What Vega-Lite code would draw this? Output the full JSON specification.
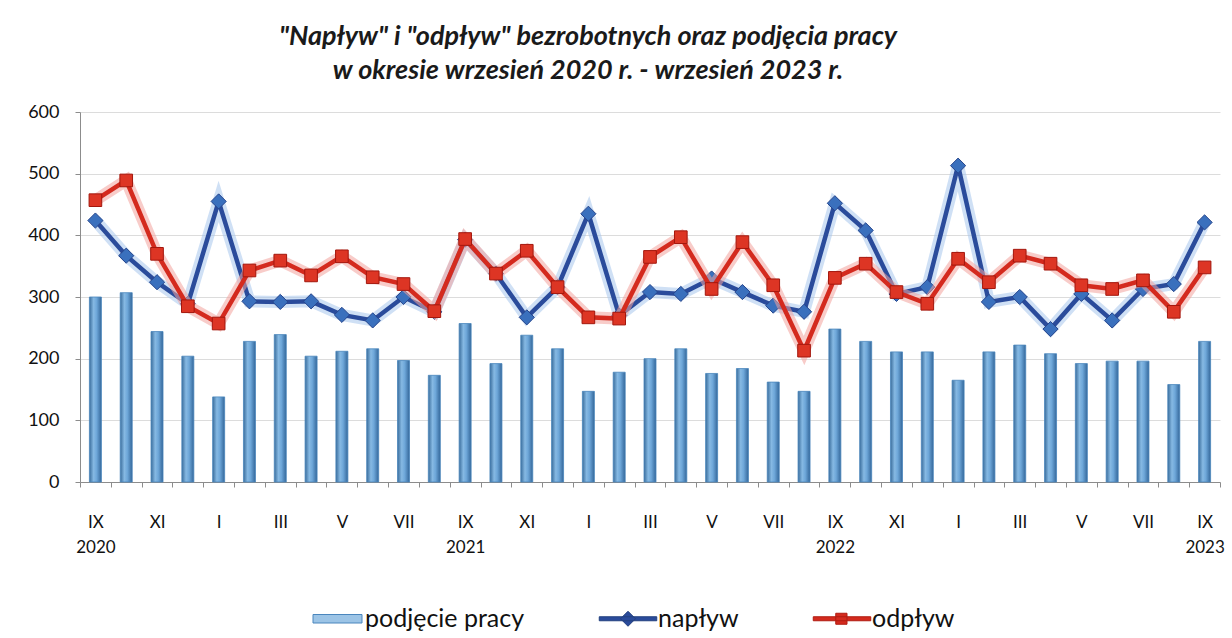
{
  "$schema": "https://vega.github.io/schema/vega-lite/v6.json",
  "width": 1140,
  "height": 370,
  "autosize": "none",
  "padding": {"left": 80, "top": 112, "right": 12, "bottom": 156},
  "background": "white",
  "title": {
    "text": ["\"Napływ\" i \"odpływ\" bezrobotnych oraz podjęcia pracy", "w okresie wrzesień 2020 r. - wrzesień 2023 r."],
    "font": "Lato", "fontSize": 27, "fontWeight": "bold", "fontStyle": "italic", "color": "#1a1a1a",
    "anchor": "middle", "dx": -62, "offset": 18, "lineHeight": 34
  },
  "data": {"values": [
    {"okres": "IX 2020", "podjecie": 300, "naplyw": 424, "odplyw": 457},
    {"okres": "X 2020", "podjecie": 307, "naplyw": 367, "odplyw": 489},
    {"okres": "XI 2020", "podjecie": 244, "naplyw": 324, "odplyw": 370},
    {"okres": "XII 2020", "podjecie": 204, "naplyw": 289, "odplyw": 285},
    {"okres": "I 2021", "podjecie": 138, "naplyw": 455, "odplyw": 257},
    {"okres": "II 2021", "podjecie": 228, "naplyw": 293, "odplyw": 343},
    {"okres": "III 2021", "podjecie": 239, "naplyw": 292, "odplyw": 359},
    {"okres": "IV 2021", "podjecie": 204, "naplyw": 293, "odplyw": 335},
    {"okres": "V 2021", "podjecie": 212, "naplyw": 271, "odplyw": 366},
    {"okres": "VI 2021", "podjecie": 216, "naplyw": 262, "odplyw": 332},
    {"okres": "VII 2021", "podjecie": 197, "naplyw": 300, "odplyw": 321},
    {"okres": "VIII 2021", "podjecie": 173, "naplyw": 276, "odplyw": 277},
    {"okres": "IX 2021", "podjecie": 257, "naplyw": 393, "odplyw": 394},
    {"okres": "X 2021", "podjecie": 192, "naplyw": 338, "odplyw": 338},
    {"okres": "XI 2021", "podjecie": 238, "naplyw": 267, "odplyw": 375},
    {"okres": "XII 2021", "podjecie": 216, "naplyw": 316, "odplyw": 316},
    {"okres": "I 2022", "podjecie": 147, "naplyw": 435, "odplyw": 267},
    {"okres": "II 2022", "podjecie": 178, "naplyw": 270, "odplyw": 265},
    {"okres": "III 2022", "podjecie": 200, "naplyw": 308, "odplyw": 365},
    {"okres": "IV 2022", "podjecie": 216, "naplyw": 305, "odplyw": 397},
    {"okres": "V 2022", "podjecie": 176, "naplyw": 330, "odplyw": 313},
    {"okres": "VI 2022", "podjecie": 184, "naplyw": 308, "odplyw": 389},
    {"okres": "VII 2022", "podjecie": 162, "naplyw": 286, "odplyw": 319},
    {"okres": "VIII 2022", "podjecie": 147, "naplyw": 276, "odplyw": 213},
    {"okres": "IX 2022", "podjecie": 248, "naplyw": 452, "odplyw": 331},
    {"okres": "X 2022", "podjecie": 228, "naplyw": 408, "odplyw": 354},
    {"okres": "XI 2022", "podjecie": 211, "naplyw": 305, "odplyw": 308},
    {"okres": "XII 2022", "podjecie": 211, "naplyw": 316, "odplyw": 289},
    {"okres": "I 2023", "podjecie": 165, "naplyw": 513, "odplyw": 362},
    {"okres": "II 2023", "podjecie": 211, "naplyw": 292, "odplyw": 324},
    {"okres": "III 2023", "podjecie": 222, "naplyw": 300, "odplyw": 367},
    {"okres": "IV 2023", "podjecie": 208, "naplyw": 248, "odplyw": 354},
    {"okres": "V 2023", "podjecie": 192, "naplyw": 305, "odplyw": 319},
    {"okres": "VI 2023", "podjecie": 196, "naplyw": 262, "odplyw": 313},
    {"okres": "VII 2023", "podjecie": 196, "naplyw": 313, "odplyw": 327},
    {"okres": "VIII 2023", "podjecie": 158, "naplyw": 321, "odplyw": 276},
    {"okres": "IX 2023", "podjecie": 228, "naplyw": 421, "odplyw": 348}
  ]},
  "encoding": {
    "x": {
      "field": "okres", "type": "ordinal", "sort": null,
      "scale": {"paddingInner": 0, "paddingOuter": 0},
      "axis": {
        "title": null, "labelAngle": 0, "grid": false,
        "labelExpr": "indexof(['IX','XI','I','III','V','VII'], split(datum.value,' ')[0]) < 0 ? '' : (split(datum.value,' ')[0] == 'IX' ? split(datum.value,' ') : split(datum.value,' ')[0])",
        "tickBand": "extent", "tickSize": 5, "tickColor": "#8c8c8c", "domainColor": "#8c8c8c",
        "labelFont": "Lato", "labelFontSize": 17, "labelColor": "#111111", "labelPadding": 27,
        "labelBaseline": "top", "labelLineHeight": 25, "labelOverlap": false, "labelBound": false
      }
    }
  },
  "layer": [
    {
      "transform": [{"filter": "false"}],
      "mark": {"type": "point", "filled": true},
      "encoding": {
        "y": {"field": "naplyw", "type": "quantitative"},
        "stroke": {"datum": "napływ",
          "scale": {"domain": ["podjęcie pracy", "napływ", "odpływ"], "range": ["#4a86bd", "#23407f", "#b01d12"]},
          "legend": {"orient": "none", "legendX": 232, "legendY": 481, "direction": "horizontal", "title": null,
            "symbolSize": 2500, "symbolStrokeWidth": 1, "symbolOpacity": 1, "labelFont": "Lato", "labelFontSize": 25, "labelColor": "#111111",
            "columnPadding": 72, "labelOffset": 2}},
        "fill": {"datum": "napływ",
          "scale": {"domain": ["podjęcie pracy", "napływ", "odpływ"], "range": ["#9cc4e6", "#2a4b9b", "#d42a1e"]},
          "legend": {"orient": "none", "legendX": 232, "legendY": 481, "direction": "horizontal", "title": null,
            "symbolSize": 2500, "symbolStrokeWidth": 1, "symbolOpacity": 1, "labelFont": "Lato", "labelFontSize": 25, "labelColor": "#111111",
            "columnPadding": 72, "labelOffset": 2}},
        "shape": {"datum": "napływ",
          "scale": {"domain": ["podjęcie pracy", "napływ", "odpływ"], "range": [
            "M-0.98,-0.17H0.98V0.17H-0.98Z",
            "M-1.25,-0.08H1.05V0.08H-1.25Z M-0.1,-0.3L0.2,0L-0.1,0.3L-0.4,0Z",
            "M-1.25,-0.08H1.05V0.08H-1.25Z M-0.35,-0.22H0.1V0.22H-0.35Z"]},
          "legend": {"orient": "none", "legendX": 232, "legendY": 481, "direction": "horizontal", "title": null,
            "symbolSize": 2500, "symbolStrokeWidth": 1, "symbolOpacity": 1, "labelFont": "Lato", "labelFontSize": 25, "labelColor": "#111111",
            "columnPadding": 72, "labelOffset": 2}}
      }
    },
    {
      "mark": {"type": "bar", "size": 12, "strokeWidth": 0.8,
        "fill": {"gradient": "linear", "x1": 0, "x2": 1, "y1": 0, "y2": 0,
          "stops": [{"offset": 0, "color": "#3a6d9c"}, {"offset": 0.35, "color": "#86b9e3"}, {"offset": 0.6, "color": "#6ea7d9"}, {"offset": 1, "color": "#34679a"}]}},
      "encoding": {
        "y": {"field": "podjecie", "type": "quantitative",
          "scale": {"domain": [0, 600], "nice": false},
          "axis": {"title": null, "values": [0, 100, 200, 300, 400, 500, 600], "tickSize": 5,
            "tickColor": "#8c8c8c", "domainColor": "#8c8c8c", "gridColor": "#dcdcdc",
            "labelFont": "Lato", "labelFontSize": 18, "labelColor": "#111111", "labelPadding": 16}},
        "stroke": {"datum": "podjęcie pracy"}
      }
    },
    {
      "mark": {"type": "line", "color": "#a8c6ec", "strokeWidth": 12, "opacity": 0.55},
      "encoding": {"y": {"field": "naplyw", "type": "quantitative"}}
    },
    {
      "mark": {"type": "line", "strokeWidth": 4.5, "stroke": "#2a4b9b"},
      "encoding": {"y": {"field": "naplyw", "type": "quantitative"}}
    },
    {
      "mark": {"type": "point", "shape": "diamond", "filled": true, "size": 230, "color": "#3a70bd", "stroke": "#26458c", "strokeWidth": 1, "opacity": 1},
      "encoding": {"y": {"field": "naplyw", "type": "quantitative"}}
    },
    {
      "mark": {"type": "line", "color": "#f3a39c", "strokeWidth": 12, "opacity": 0.55},
      "encoding": {"y": {"field": "odplyw", "type": "quantitative"}}
    },
    {
      "mark": {"type": "line", "strokeWidth": 4.5, "stroke": "#d42a1e"},
      "encoding": {"y": {"field": "odplyw", "type": "quantitative"}}
    },
    {
      "mark": {"type": "point", "shape": "square", "filled": true, "size": 160, "color": "#dd3524", "stroke": "#a3170d", "strokeWidth": 1, "opacity": 1},
      "encoding": {"y": {"field": "odplyw", "type": "quantitative"}}
    }
  ],
  "config": {"view": {"stroke": null}, "font": "Lato"}
}
